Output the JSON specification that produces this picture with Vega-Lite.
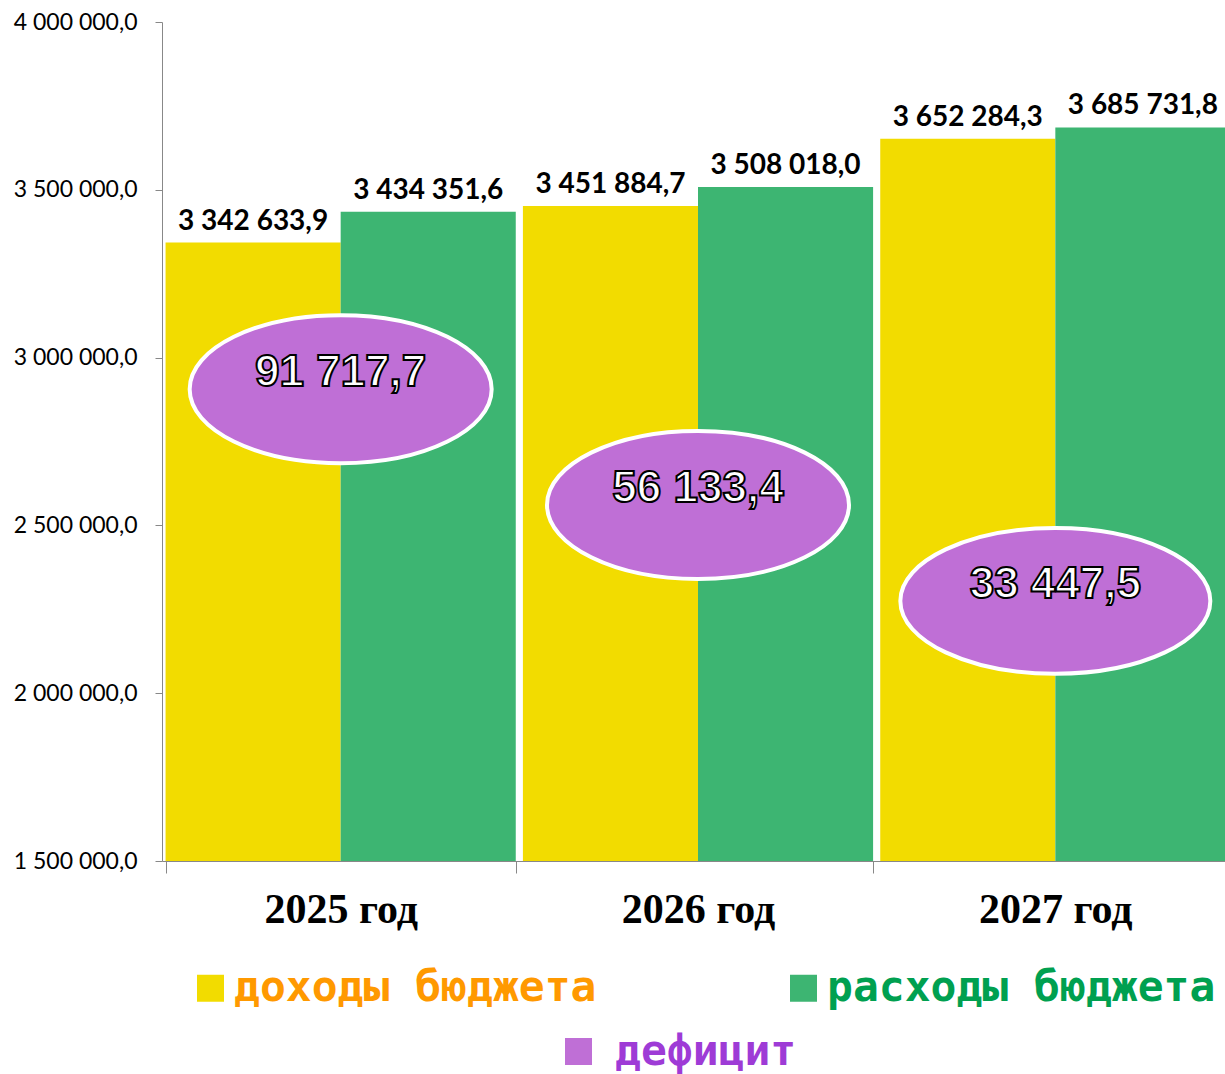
{
  "$schema": "https://vega.github.io/schema/vega-lite/v6.json",
  "width": 1063,
  "height": 839,
  "autosize": "none",
  "padding": {"left": 162, "top": 22, "right": 0, "bottom": 213},
  "background": "white",
  "config": {
    "locale": {"number": {"decimal": ",", "thousands": " ", "grouping": [3], "currency": ["", ""]}},
    "view": {"stroke": null}
  },
  "datasets": {
    "budget": [
      {"year": "2025 год", "series": "доходы бюджета", "value": 3342633.9},
      {"year": "2025 год", "series": "расходы бюджета", "value": 3434351.6},
      {"year": "2026 год", "series": "доходы бюджета", "value": 3451884.7},
      {"year": "2026 год", "series": "расходы бюджета", "value": 3508018.0},
      {"year": "2027 год", "series": "доходы бюджета", "value": 3652284.3},
      {"year": "2027 год", "series": "расходы бюджета", "value": 3685731.8}
    ],
    "deficit": [
      {"year": "2025 год", "series": "дефицит", "value": 91717.7},
      {"year": "2026 год", "series": "дефицит", "value": 56133.4},
      {"year": "2027 год", "series": "дефицит", "value": 33447.5}
    ]
  },
  "encoding": {
    "x": {
      "field": "year",
      "type": "nominal",
      "scale": {"range": [0, 1072], "paddingInner": 0.02, "paddingOuter": 0.01},
      "axis": {
        "title": null,
        "labelAngle": 0,
        "labelFont": "Liberation Serif",
        "labelFontSize": 42,
        "labelFontWeight": "bold",
        "labelColor": "black",
        "labelPadding": 16,
        "tickSize": 12,
        "tickColor": "#888888",
        "domainColor": "#888888",
        "tickBand": "extent",
        "labelLimit": 1000
      }
    }
  },
  "layer": [
    {
      "data": {"name": "budget"},
      "mark": {"type": "bar", "strokeWidth": 0},
      "encoding": {
        "xOffset": {"field": "series", "type": "nominal", "sort": ["доходы бюджета", "расходы бюджета"], "scale": {"paddingInner": 0, "paddingOuter": 0}},
        "y": {
          "field": "value",
          "type": "quantitative",
          "scale": {"domain": [1500000, 4000000], "nice": false, "zero": false},
          "axis": {
            "title": null,
            "values": [1500000, 2000000, 2500000, 3000000, 3500000, 4000000],
            "format": ",.1f",
            "grid": false,
            "labelFont": "Lato",
            "labelFontSize": 23,
            "labelColor": "black",
            "labelPadding": 18,
            "tickSize": 7,
            "tickColor": "#888888",
            "domainColor": "#888888"
          }
        },
        "y2": {"datum": 1500000},
        "color": {
          "field": "series",
          "type": "nominal",
          "scale": {"domain": ["доходы бюджета", "расходы бюджета"], "range": ["#F2DC00", "#3DB572"]},
          "legend": {
            "orient": "none",
            "legendX": 27,
            "legendY": 944.5,
            "direction": "horizontal",
            "title": null,
            "padding": 0,
            "symbolType": "square",
            "symbolSize": 729,
            "symbolStrokeWidth": 0,
            "labelFont": "DejaVu Sans Mono",
            "labelFontSize": 43,
            "labelFontWeight": "bold",
            "labelColor": {"expr": "datum.value == 'доходы бюджета' ? '#FF9900' : '#00A050'"},
            "labelOffset": 2,
            "labelLimit": 1000,
            "columnPadding": 185
          }
        }
      }
    },
    {
      "data": {"name": "budget"},
      "mark": {"type": "text", "font": "Lato", "fontSize": 28, "fontWeight": "bold", "color": "black", "baseline": "alphabetic", "dy": -13},
      "encoding": {
        "xOffset": {"field": "series", "type": "nominal", "sort": ["доходы бюджета", "расходы бюджета"], "scale": {"paddingInner": 0, "paddingOuter": 0}},
        "y": {"field": "value", "type": "quantitative"},
        "text": {"field": "value", "type": "quantitative", "format": ",.1f"}
      }
    },
    {
      "data": {"name": "deficit"},
      "transform": [{"filter": "datum.year == '2025 год'"}],
      "encoding": {"y": {"datum": 2906000, "type": "quantitative"}},
      "layer": [
        {
          "mark": {"type": "point", "shape": "M -1 0 A 1 0.49 0 1 1 1 0 A 1 0.49 0 1 1 -1 0 Z", "size": 91204, "filled": true, "opacity": 1, "stroke": "white", "strokeWidth": 4},
          "encoding": {
            "fill": {
              "field": "series", "type": "nominal",
              "scale": {"domain": ["дефицит"], "range": ["#BF6FD6"]},
              "legend": {
                "orient": "none", "legendX": 395, "legendY": 1008, "title": null, "padding": 0,
                "symbolType": "square", "symbolSize": 729, "symbolStrokeWidth": 0,
                "labelFont": "DejaVu Sans Mono", "labelFontSize": 43, "labelFontWeight": "bold",
                "labelColor": "#9E3BD6", "labelOffset": 15, "labelLimit": 1000
              }
            }
          }
        },
        {
          "mark": {"type": "text", "font": "Liberation Sans", "fontSize": 44, "fontWeight": "bold", "fill": "white", "stroke": "black", "strokeWidth": 2, "baseline": "middle", "dy": -16},
          "encoding": {"text": {"field": "value", "type": "quantitative", "format": ",.1f"}}
        }
      ]
    },
    {
      "data": {"name": "deficit"},
      "transform": [{"filter": "datum.year == '2026 год'"}],
      "encoding": {"y": {"datum": 2561000, "type": "quantitative"}},
      "layer": [
        {
          "mark": {"type": "point", "shape": "M -1 0 A 1 0.49 0 1 1 1 0 A 1 0.49 0 1 1 -1 0 Z", "size": 91204, "filled": true, "opacity": 1, "stroke": "white", "strokeWidth": 4},
          "encoding": {
            "fill": {
              "field": "series", "type": "nominal",
              "scale": {"domain": ["дефицит"], "range": ["#BF6FD6"]},
              "legend": {
                "orient": "none", "legendX": 395, "legendY": 1008, "title": null, "padding": 0,
                "symbolType": "square", "symbolSize": 729, "symbolStrokeWidth": 0,
                "labelFont": "DejaVu Sans Mono", "labelFontSize": 43, "labelFontWeight": "bold",
                "labelColor": "#9E3BD6", "labelOffset": 15, "labelLimit": 1000
              }
            }
          }
        },
        {
          "mark": {"type": "text", "font": "Liberation Sans", "fontSize": 44, "fontWeight": "bold", "fill": "white", "stroke": "black", "strokeWidth": 2, "baseline": "middle", "dy": -16},
          "encoding": {"text": {"field": "value", "type": "quantitative", "format": ",.1f"}}
        }
      ]
    },
    {
      "data": {"name": "deficit"},
      "transform": [{"filter": "datum.year == '2027 год'"}],
      "encoding": {"y": {"datum": 2275000, "type": "quantitative"}},
      "layer": [
        {
          "mark": {"type": "point", "shape": "M -1 0 A 1 0.47 0 1 1 1 0 A 1 0.47 0 1 1 -1 0 Z", "size": 96100, "filled": true, "opacity": 1, "stroke": "white", "strokeWidth": 4},
          "encoding": {
            "fill": {
              "field": "series", "type": "nominal",
              "scale": {"domain": ["дефицит"], "range": ["#BF6FD6"]},
              "legend": {
                "orient": "none", "legendX": 395, "legendY": 1008, "title": null, "padding": 0,
                "symbolType": "square", "symbolSize": 729, "symbolStrokeWidth": 0,
                "labelFont": "DejaVu Sans Mono", "labelFontSize": 43, "labelFontWeight": "bold",
                "labelColor": "#9E3BD6", "labelOffset": 15, "labelLimit": 1000
              }
            }
          }
        },
        {
          "mark": {"type": "text", "font": "Liberation Sans", "fontSize": 44, "fontWeight": "bold", "fill": "white", "stroke": "black", "strokeWidth": 2, "baseline": "middle", "dy": -16},
          "encoding": {"text": {"field": "value", "type": "quantitative", "format": ",.1f"}}
        }
      ]
    }
  ]
}
